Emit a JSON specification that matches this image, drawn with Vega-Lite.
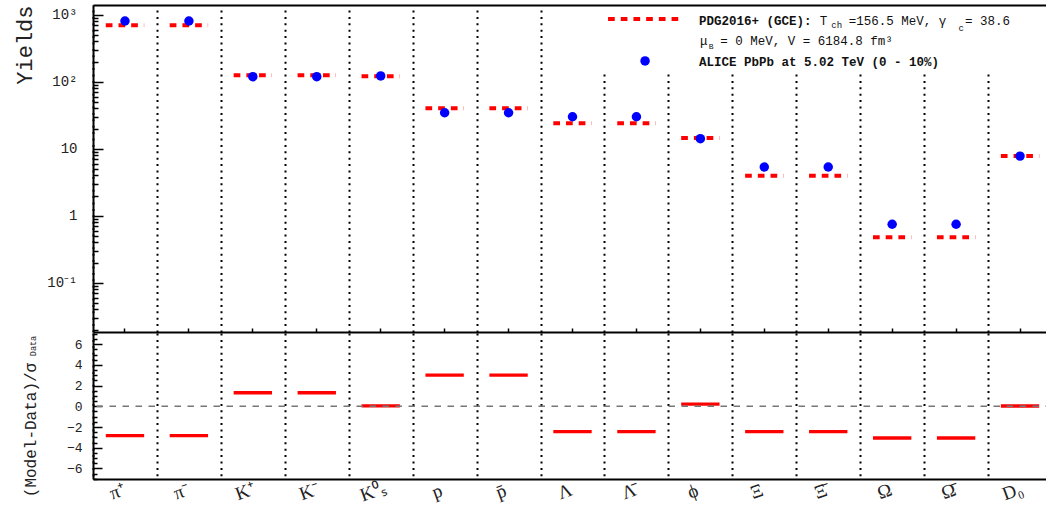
{
  "$schema": "https://vega.github.io/schema/vega-lite/v6.json",
  "padding": {"left": 13, "top": 4, "right": 0, "bottom": 0},
  "background": "white",
  "spacing": 0,
  "config": {
    "view": {"stroke": null},
    "axis": {
      "labelFont": "Liberation Mono",
      "titleFont": "Liberation Mono",
      "titleFontWeight": "normal",
      "domainColor": "black",
      "domainWidth": 2,
      "tickColor": "black",
      "labelColor": "#222",
      "titleColor": "#222"
    }
  },
  "datasets": {
    "particles": [
      {"particle": "π⁺", "model": 695, "data": 805, "dev": -2.84},
      {"particle": "π⁻", "model": 695, "data": 805, "dev": -2.84},
      {"particle": "K⁺", "model": 125, "data": 119, "dev": 1.31},
      {"particle": "K⁻", "model": 125, "data": 119, "dev": 1.31},
      {"particle": "K⁰ₛ", "model": 120.5, "data": 122, "dev": 0.05},
      {"particle": "p", "model": 40.1, "data": 34.4, "dev": 3.02},
      {"particle": "p̄", "model": 40.1, "data": 34.4, "dev": 3.02},
      {"particle": "Λ", "model": 23.9, "data": 30.0, "dev": -2.45},
      {"particle": "Λ̄", "model": 23.9, "data": 30.0, "dev": -2.45},
      {"particle": "ϕ", "model": 14.4, "data": 14.1, "dev": 0.22},
      {"particle": "Ξ", "model": 3.95, "data": 5.33, "dev": -2.45},
      {"particle": "Ξ̄", "model": 3.95, "data": 5.33, "dev": -2.45},
      {"particle": "Ω", "model": 0.476, "data": 0.745, "dev": -3.06},
      {"particle": "Ω̄", "model": 0.476, "data": 0.745, "dev": -3.06},
      {"particle": "D₀", "model": 7.8, "data": 7.75, "dev": 0.03}
    ]
  },
  "vconcat": [
    {
      "width": 959,
      "height": 327,
      "data": {"name": "particles"},
      "resolve": {"axis": {"x": "independent", "y": "independent"}},
      "layer": [
        {
          "mark": {"type": "rule", "color": "#ff0000", "strokeWidth": 4, "strokeDash": [6.7, 6], "strokeCap": "butt"},
          "encoding": {
            "x": {
              "field": "particle", "type": "nominal", "bandPosition": 0.2,
              "scale": {"domain": ["π⁺", "π⁻", "K⁺", "K⁻", "K⁰ₛ", "p", "p̄", "Λ", "Λ̄", "ϕ", "Ξ", "Ξ̄", "Ω", "Ω̄", "D₀"], "paddingInner": 0, "paddingOuter": 0},
              "axis": {"orient": "bottom", "labels": false, "title": null, "ticks": true, "tickSize": -4, "tickWidth": 1.5, "grid": false, "domainWidth": 2}
            },
            "x2": {"field": "particle", "bandPosition": 0.8},
            "y": {
              "field": "model", "type": "quantitative",
              "scale": {"type": "log", "domain": [0.01837, 1396], "nice": false},
              "axis": {
                "orient": "left",
                "title": "Yields", "titleFontSize": 22, "titleAnchor": "end", "titlePadding": 11.4,
                "minExtent": 45, "maxExtent": 45,
                "values": [0.1, 1, 10, 100, 1000],
                "labelExpr": "datum.value == 1000 ? '10³' : datum.value == 100 ? '10²' : datum.value == 10 ? '10' : datum.value == 1 ? '1' : '10⁻¹'",
                "tickSize": -10,
                "tickWidth": 1.5,
                "labelPadding": 26, "labelFontSize": 14, "labelOverlap": false, "labelFlush": false, "labelBound": false,
                "grid": false
              }
            }
          }
        },
        {
          "mark": {"type": "circle", "color": "#0000ff", "size": 90, "opacity": 1},
          "encoding": {
            "x": {
              "field": "particle", "type": "nominal",
              "axis": {"orient": "top", "labels": false, "ticks": false, "title": null, "grid": true, "tickBand": "extent", "gridDash": [2, 4.4], "gridColor": "black", "gridWidth": 2, "gridOpacity": 1, "domainWidth": 2}
            },
            "y": {
              "field": "data", "type": "quantitative",
              "axis": {
                "orient": "left", "title": null, "labels": false, "domain": false, "grid": false,
                "values": [0.02, 0.03, 0.04, 0.05, 0.06, 0.07, 0.08, 0.09, 0.2, 0.3, 0.4, 0.5, 0.6, 0.7, 0.8, 0.9, 2, 3, 4, 5, 6, 7, 8, 9, 20, 30, 40, 50, 60, 70, 80, 90, 200, 300, 400, 500, 600, 700, 800, 900],
                "tickSize": -5, "tickWidth": 1.5, "minExtent": 0, "maxExtent": 0
              }
            }
          }
        },
        {
          "data": {"values": [{}]},
          "mark": {"type": "rect", "color": "white", "opacity": 1},
          "encoding": {
            "x": {"datum": "Λ", "type": "nominal", "bandPosition": 0.884, "axis": null},
            "x2": {"datum": "D₀", "bandPosition": 1},
            "y": {"datum": 1300, "type": "quantitative", "axis": null},
            "y2": {"datum": 130}
          }
        },
        {
          "data": {"values": [{}]},
          "mark": {"type": "rule", "color": "#ff0000", "strokeWidth": 4, "strokeDash": [6.7, 6], "strokeCap": "butt"},
          "encoding": {
            "x": {"datum": "Λ̄", "type": "nominal", "bandPosition": 0.056, "axis": null},
            "x2": {"datum": "ϕ", "bandPosition": 0.228},
            "y": {"datum": 863, "type": "quantitative", "axis": null}
          }
        },
        {
          "data": {"values": [{}]},
          "mark": {"type": "circle", "color": "#0000ff", "size": 90, "opacity": 1},
          "encoding": {
            "x": {"datum": "Λ̄", "type": "nominal", "bandPosition": 0.635, "axis": null},
            "y": {"datum": 204, "type": "quantitative", "axis": null}
          }
        },
        {
          "data": {"values": [{}]},
          "mark": {"type": "text", "text": "PDG2016+ (GCE):", "font": "Liberation Mono", "fontWeight": "bold", "fontSize": 12.5, "align": "left", "baseline": "middle", "color": "#111"},
          "encoding": {
            "x": {"datum": "ϕ", "type": "nominal", "bandPosition": 0.479, "axis": null},
            "y": {"datum": 813.6, "type": "quantitative", "axis": null}
          }
        },
        {
          "data": {"values": [{}]},
          "mark": {"type": "text", "text": "T", "font": "Liberation Mono", "fontSize": 12.5, "align": "left", "baseline": "middle", "color": "#111"},
          "encoding": {
            "x": {"datum": "Ξ̄", "type": "nominal", "bandPosition": 0.368, "axis": null},
            "y": {"datum": 813.6, "type": "quantitative", "axis": null}
          }
        },
        {
          "data": {"values": [{}]},
          "mark": {"type": "text", "text": "ch", "font": "Liberation Mono", "fontSize": 9, "align": "left", "baseline": "middle", "color": "#111"},
          "encoding": {
            "x": {"datum": "Ξ̄", "type": "nominal", "bandPosition": 0.549, "axis": null},
            "y": {"datum": 701, "type": "quantitative", "axis": null}
          }
        },
        {
          "data": {"values": [{}]},
          "mark": {"type": "text", "text": "=156.5 MeV, γ", "font": "Liberation Mono", "fontSize": 12.5, "align": "left", "baseline": "middle", "color": "#111"},
          "encoding": {
            "x": {"datum": "Ξ̄", "type": "nominal", "bandPosition": 0.821, "axis": null},
            "y": {"datum": 813.6, "type": "quantitative", "axis": null}
          }
        },
        {
          "data": {"values": [{}]},
          "mark": {"type": "text", "text": "c", "font": "Liberation Mono", "fontSize": 9, "align": "left", "baseline": "middle", "color": "#111"},
          "encoding": {
            "x": {"datum": "Ω̄", "type": "nominal", "bandPosition": 0.538, "axis": null},
            "y": {"datum": 627, "type": "quantitative", "axis": null}
          }
        },
        {
          "data": {"values": [{}]},
          "mark": {"type": "text", "text": "= 38.6", "font": "Liberation Mono", "fontSize": 12.5, "align": "left", "baseline": "middle", "color": "#111"},
          "encoding": {
            "x": {"datum": "Ω̄", "type": "nominal", "bandPosition": 0.64, "axis": null},
            "y": {"datum": 813.6, "type": "quantitative", "axis": null}
          }
        },
        {
          "data": {"values": [{}]},
          "mark": {"type": "text", "text": "μ", "font": "Liberation Mono", "fontSize": 12.5, "align": "left", "baseline": "middle", "color": "#111"},
          "encoding": {
            "x": {"datum": "ϕ", "type": "nominal", "bandPosition": 0.494, "axis": null},
            "y": {"datum": 409, "type": "quantitative", "axis": null}
          }
        },
        {
          "data": {"values": [{}]},
          "mark": {"type": "text", "text": "B", "font": "Liberation Mono", "fontSize": 8, "align": "left", "baseline": "middle", "color": "#111"},
          "encoding": {
            "x": {"datum": "ϕ", "type": "nominal", "bandPosition": 0.63, "axis": null},
            "y": {"datum": 333, "type": "quantitative", "axis": null}
          }
        },
        {
          "data": {"values": [{}]},
          "mark": {"type": "text", "text": "= 0 MeV, V = 6184.8 fm³", "font": "Liberation Mono", "fontSize": 12.5, "align": "left", "baseline": "middle", "color": "#111"},
          "encoding": {
            "x": {"datum": "ϕ", "type": "nominal", "bandPosition": 0.812, "axis": null},
            "y": {"datum": 409, "type": "quantitative", "axis": null}
          }
        },
        {
          "data": {"values": [{}]},
          "mark": {"type": "text", "text": "ALICE PbPb at 5.02 TeV (0 - 10%)", "font": "Liberation Mono", "fontWeight": "bold", "fontSize": 12.5, "align": "left", "baseline": "middle", "color": "#111"},
          "encoding": {
            "x": {"datum": "ϕ", "type": "nominal", "bandPosition": 0.479, "axis": null},
            "y": {"datum": 199, "type": "quantitative", "axis": null}
          }
        }
      ]
    },
    {
      "width": 959,
      "height": 146,
      "data": {"name": "particles"},
      "resolve": {"axis": {"y": "independent"}},
      "layer": [
        {
          "mark": {"type": "rule", "color": "#ff0000", "strokeWidth": 3.3, "strokeCap": "butt"},
          "encoding": {
            "x": {
              "field": "particle", "type": "nominal", "bandPosition": 0.2,
              "scale": {"domain": ["π⁺", "π⁻", "K⁺", "K⁻", "K⁰ₛ", "p", "p̄", "Λ", "Λ̄", "ϕ", "Ξ", "Ξ̄", "Ω", "Ω̄", "D₀"], "paddingInner": 0, "paddingOuter": 0},
              "axis": {
                "orient": "bottom", "title": null, "ticks": false,
                "labelAngle": -20, "labelFont": "Liberation Serif", "labelFontSize": 19, "labelColor": "#222",
                "labelPadding": 12, "labelOffset": -8, "labelAlign": "center", "labelBaseline": "middle",
                "grid": true, "tickBand": "extent", "gridDash": [2, 4.4], "gridColor": "black", "gridWidth": 2, "gridOpacity": 1,
                "domainWidth": 2
              }
            },
            "x2": {"field": "particle", "bandPosition": 0.8},
            "y": {
              "field": "dev", "type": "quantitative",
              "scale": {"domain": [-7.02, 7.08], "nice": false, "zero": false},
              "axis": {
                "orient": "left",
                "title": "(Model-Data)/σ", "titleFontSize": 16, "titlePadding": 9.5, "titleY": 96.5,
                "minExtent": 45, "maxExtent": 45,
                "values": [-6, -4, -2, 0, 2, 4, 6],
                "labelExpr": "datum.value < 0 ? '−' + abs(datum.value) : '' + datum.value",
                "tickSize": -9,
                "tickWidth": 1.5,
                "labelPadding": 20, "labelFontSize": 13, "labelOverlap": false, "labelFlush": false, "labelBound": false,
                "grid": false
              }
            }
          }
        },
        {
          "data": {"values": [{}]},
          "mark": {"type": "rule", "color": "#777777", "strokeWidth": 1.5, "strokeDash": [6.5, 6.5]},
          "encoding": {
            "y": {
              "datum": 0, "type": "quantitative",
              "axis": {
                "orient": "left", "labels": false, "domain": false, "grid": false,
                "title": "Data", "titleFontSize": 8.5, "titleX": -56, "titleY": 12.5, "titleAngle": 270, "titleAlign": "center", "titleBaseline": "bottom",
                "values": [-7, -6.5, -5.5, -5, -4.5, -3.5, -3, -2.5, -1.5, -1, -0.5, 0.5, 1, 1.5, 2.5, 3, 3.5, 4.5, 5, 5.5, 6.5, 7],
                "tickSize": -4, "tickWidth": 1.5, "minExtent": 0, "maxExtent": 0
              }
            }
          }
        }
      ]
    }
  ]
}
